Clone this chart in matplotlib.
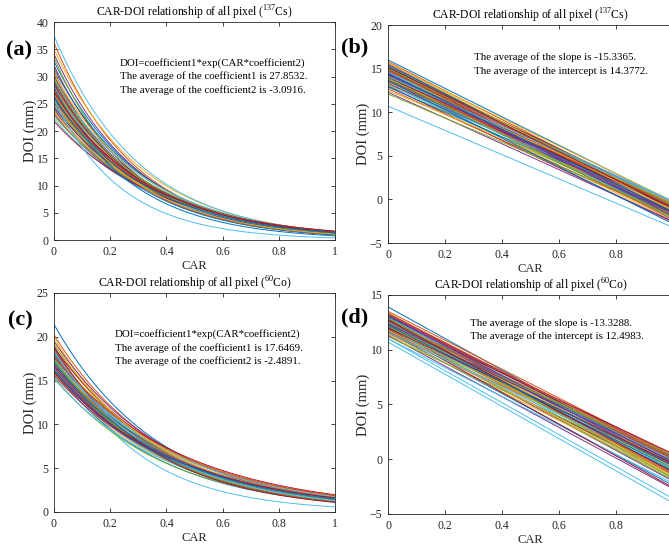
import numpy as np
import matplotlib
matplotlib.use("Agg")
import matplotlib.pyplot as plt
from matplotlib.ticker import FuncFormatter

plt.rcParams.update({
    "font.family": "Liberation Serif",
    "mathtext.fontset": "custom",
    "mathtext.rm": "Liberation Serif",
    "font.size": 8,
})

# MATLAB default colour order
COLORS = ["#0072BD", "#D95319", "#EDB120", "#7E2F8E", "#77AC30", "#4DBEEE", "#A2142F"]

# (a) 137Cs exponential fits: DOI = c1 * exp(CAR * c2)
cs_c1 = [32.8, 36.2, 35.0, 34.1, 33.5, 37.5, 32.0, 31.4, 30.9, 30.5,
         30.1, 29.8, 29.4, 29.1, 28.8, 28.5, 28.3, 28.0, 27.8, 27.6,
         27.4, 27.2, 27.0, 26.8, 26.6, 26.4, 26.2, 26.0, 25.8, 25.6,
         25.4, 25.2, 25.0, 24.7, 24.4, 24.1, 23.8, 23.5, 23.2, 22.8,
         22.3, 21.8, 28.0, 27.5, 26.9, 28.6, 29.5, 25.9, 27.1, 26.3]
cs_c2 = [-3.20, -3.40, -3.15, -3.30, -3.55, -3.25, -3.35, -3.10, -3.45, -3.05,
         -3.20, -3.30, -2.95, -3.15, -3.40, -3.00, -3.10, -3.25, -2.90, -3.05,
         -3.20, -3.35, -2.95, -3.10, -2.85, -3.00, -3.15, -2.90, -3.05, -2.80,
         -2.95, -3.10, -2.85, -2.90, -2.75, -3.00, -2.80, -2.70, -2.85, -2.65,
         -2.75, -2.60, -3.60, -3.30, -3.20, -3.05, -3.15, -4.20, -2.95, -3.00]

# (b) 137Cs linear fits: DOI = slope * CAR + intercept
cs_int = [16.0, 15.8, 15.6, 15.5, 15.3, 15.2, 15.1, 15.0, 14.9, 14.8,
          14.7, 14.6, 14.5, 14.4, 14.3, 14.2, 14.1, 14.0, 13.9, 13.8,
          13.7, 13.6, 13.5, 13.4, 13.3, 13.2, 13.1, 13.0, 12.9, 12.7,
          12.5, 12.3, 12.1, 14.6, 14.9, 15.4, 14.2, 13.8, 14.5, 15.0,
          10.7, 14.0, 13.6, 14.8, 15.7, 14.3, 13.9, 14.1, 15.2, 14.4]
cs_slope = [-16.3, -16.6, -15.8, -16.7, -15.9, -16.7, -15.5, -16.0, -15.6, -16.6,
            -15.2, -15.7, -15.9, -15.3, -16.3, -14.8, -15.4, -15.7, -14.7, -16.0,
            -14.7, -15.2, -14.0, -15.8, -14.5, -15.1, -14.0, -15.6, -14.3, -14.7,
            -13.6, -14.8, -13.8, -14.8, -16.4, -16.3, -16.5, -14.2, -16.4, -15.6,
            -13.9, -15.0, -16.4, -15.6, -17.0, -15.9, -16.0, -14.4, -16.2, -15.8]

# (c) 60Co exponential fits
co_c1 = [21.4, 20.2, 19.9, 19.5, 19.2, 19.0, 18.8, 18.6, 18.4, 18.2,
         18.0, 17.9, 17.8, 17.6, 17.5, 17.4, 17.3, 17.2, 17.1, 17.0,
         16.9, 16.8, 16.7, 16.6, 16.5, 16.4, 16.3, 16.2, 16.1, 16.0,
         15.8, 15.6, 15.4, 15.2, 17.7, 18.1, 18.5, 17.0, 16.6, 17.3,
         17.5, 18.9, 16.2, 17.8, 19.3, 16.8, 17.4, 18.3, 15.9, 17.1]
co_c2 = [-2.65, -2.55, -2.70, -2.45, -2.60, -3.50, -2.40, -2.75, -2.50, -2.35,
         -2.60, -2.45, -2.30, -2.55, -2.70, -2.40, -2.25, -2.50, -2.65, -2.35,
         -2.45, -2.60, -2.20, -2.40, -2.55, -2.30, -2.50, -2.35, -2.65, -2.25,
         -2.45, -2.30, -2.55, -2.40, -2.20, -2.50, -2.75, -2.35, -2.45, -2.60,
         -2.30, -2.85, -2.40, -2.25, -2.55, -2.35, -2.50, -2.65, -2.30, -2.45]

# (d) 60Co linear fits
co_int = [13.9, 13.5, 13.4, 13.3, 13.2, 10.7, 13.1, 13.0, 12.9, 12.8,
          12.7, 12.6, 12.5, 12.4, 12.3, 12.2, 12.1, 12.0, 11.9, 11.8,
          11.7, 11.6, 11.5, 11.4, 11.3, 11.2, 11.0, 12.8, 13.0, 12.4,
          12.6, 13.2, 12.1, 12.9, 11.9, 12.3, 12.7, 12.5, 13.1, 12.2,
          11.0, 12.0, 12.6, 13.3, 11.8, 12.4, 12.9, 11.6, 12.7, 12.2]
co_slope = [-14.4, -13.2, -14.4, -13.5, -14.7, -14.7, -13.1, -13.8, -12.5, -14.0,
            -13.1, -12.4, -14.3, -13.0, -12.2, -13.3, -12.4, -14.0, -12.7, -11.9,
            -13.1, -14.0, -12.0, -13.1, -14.0, -12.2, -13.2, -12.3, -13.3, -13.7,
            -13.3, -13.0, -14.0, -13.0, -14.5, -13.2, -12.7, -14.0, -13.7, -11.9,
            -14.6, -12.4, -13.7, -13.2, -13.4, -12.6, -14.6, -12.5, -13.9, -12.8]

TITLE_CS = r"CAR-DOI relationship of all pixel ($^{\mathrm{137}}$Cs)"
TITLE_CO = r"CAR-DOI relationship of all pixel ($^{\mathrm{60}}$Co)"
EXP_NOTE_CS = ("DOI=coefficient1*exp(CAR*coefficient2)\n"
               "The average of the coefficient1 is 27.8532.\n"
               "The average of the coefficient2 is -3.0916.")
LIN_NOTE_CS = ("The average of the slope is -15.3365.\n"
               "The average of the intercept is 14.3772.")
EXP_NOTE_CO = ("DOI=coefficient1*exp(CAR*coefficient2)\n"
               "The average of the coefficient1 is 17.6469.\n"
               "The average of the coefficient2 is -2.4891.")
LIN_NOTE_CO = ("The average of the slope is -13.3288.\n"
               "The average of the intercept is 12.4983.")

car = np.linspace(0, 1, 200)
AXC = "#262626"


def style_axes(ax, ylim, title):
    ax.set_xlim(0, 1)
    ax.set_ylim(*ylim)
    ax.set_xticks(np.arange(0, 1.01, 0.2))
    ax.set_yticks(np.arange(ylim[0], ylim[1] + 0.1, 5))
    ax.xaxis.set_major_formatter(FuncFormatter(lambda v, p: f"{v:g}"))
    ax.tick_params(direction="in", top=True, right=True, length=3,
                   width=0.6, colors=AXC, labelsize=8.5, pad=4)
    for s in ax.spines.values():
        s.set_color(AXC)
        s.set_linewidth(0.6)
    ax.set_xlabel("CAR", fontsize=9, color=AXC, labelpad=2)
    ax.set_ylabel("DOI (mm)", fontsize=10.5, color=AXC, labelpad=0)
    ax.set_title(title, fontsize=8.4, color="black", pad=4)


fig = plt.figure(figsize=(6.69, 5.45), dpi=100)
ax_a = fig.add_axes([0.0807, 0.5596, 0.420, 0.400])
ax_b = fig.add_axes([0.580, 0.554, 0.426, 0.400])
ax_c = fig.add_axes([0.0807, 0.0606, 0.420, 0.402])
ax_d = fig.add_axes([0.580, 0.0569, 0.426, 0.402])

for i, (c1, c2) in enumerate(zip(cs_c1, cs_c2)):
    ax_a.plot(car, c1 * np.exp(car * c2), color=COLORS[i % 7], lw=0.7)
for i, (b0, b1) in enumerate(zip(cs_int, cs_slope)):
    ax_b.plot(car, b1 * car + b0, color=COLORS[i % 7], lw=0.7)
for i, (c1, c2) in enumerate(zip(co_c1, co_c2)):
    ax_c.plot(car, c1 * np.exp(car * c2), color=COLORS[i % 7], lw=0.7)
for i, (b0, b1) in enumerate(zip(co_int, co_slope)):
    ax_d.plot(car, b1 * car + b0, color=COLORS[i % 7], lw=0.7)

style_axes(ax_a, (0, 40), TITLE_CS)
style_axes(ax_b, (-5, 20), TITLE_CS)
style_axes(ax_c, (0, 25), TITLE_CO)
style_axes(ax_d, (-5, 15), TITLE_CO)

note_kw = dict(va="top", fontsize=7.8, linespacing=1.5)
ax_a.text(0.235, 0.835, EXP_NOTE_CS, transform=ax_a.transAxes, **note_kw)
ax_b.text(0.30, 0.875, LIN_NOTE_CS, transform=ax_b.transAxes, **note_kw)
ax_c.text(0.217, 0.835, EXP_NOTE_CO, transform=ax_c.transAxes, **note_kw)
ax_d.text(0.286, 0.895, LIN_NOTE_CO, transform=ax_d.transAxes, **note_kw)

for lab, x, y in [("(a)", 19, 50), ("(b)", 355, 47), ("(c)", 20, 320), ("(d)", 355, 317)]:
    fig.text(x / 669, 1 - y / 545, lab, fontsize=16, fontweight="bold",
             ha="center", va="center")

fig.savefig("out.png", dpi=100)
